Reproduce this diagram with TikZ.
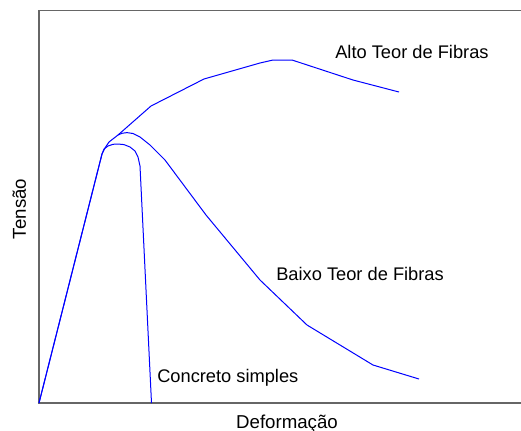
\documentclass[tikz,border=0pt]{standalone}
\usepackage{fontspec}
\setmainfont{Liberation Sans}
\usetikzlibrary{positioning}

\begin{document}
\begin{tikzpicture}[x=0.75pt, y=-0.75pt,
    axis/.style={draw=black!60, line width=0.9pt},
    curve/.style={draw=blue, line width=0.75pt, line join=round},
    curvelabel/.style={font=\fontsize{13.7}{16}\selectfont, inner sep=0pt, anchor=base west},
    axislabel/.style={font=\fontsize{14}{16}\selectfont, inner sep=0pt, anchor=base}]
  \useasboundingbox (0,0) rectangle (521,430);

  % frame
  \coordinate (O) at (39,403);
  \coordinate (top) at (39,10.5);
  \draw[axis] (521,10.5) -- (top) -- (O) -- (521,403);

  \coordinate (yield) at (102,154);
  \coordinate (split) at (118,135);

  % curves
  \draw[curve] (O) -- (yield) -- (104,149) -- (108,146) -- (113,144.3) -- (118,144)
    -- (124,144.6) -- (130,147) -- (135,151) -- (138,157) -- (140,166) -- (151.5,403);
  \draw[curve] (O) -- (yield) -- (105,148) -- (109,142) -- (split) -- (122,133.3)
    -- (127,132.6) -- (133,133.5) -- (140,137) -- (150,145) -- (165,160) -- (206,215)
    -- (260,280) -- (307,325) -- (373,365) -- (419,379);
  \draw[curve] (split) -- (151,106) -- (204,79) -- (260,63) -- (273,60) -- (292,60)
    -- (353,80) -- (399,92);

  % labels
  \node[curvelabel] (alto) at (335,58) {Alto Teor de Fibras};
  \node[curvelabel] (baixo) at (276,280) {Baixo Teor de Fibras};
  \node[curvelabel] (simples) at (157,382) {Concreto simples};
  \node[axislabel] (xlab) at (287,428) {Deformação};
  \node[axislabel, rotate=90] (ylab) at (26,209) {Tensão};
\end{tikzpicture}
\end{document}
